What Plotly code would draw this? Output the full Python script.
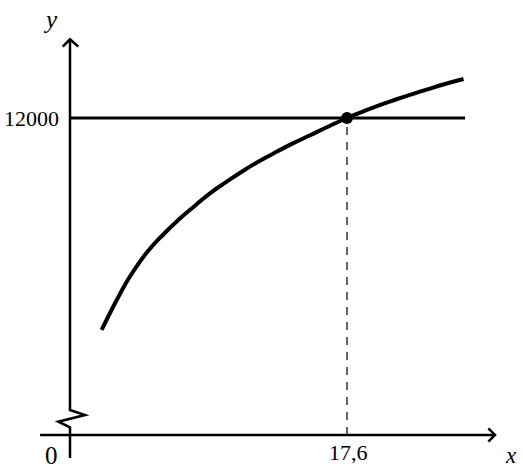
import plotly.graph_objects as go

# curve
xs = [2.01, 2.86, 3.70, 4.34, 4.97, 5.83, 6.88, 7.94, 8.89, 9.96, 11.01, 12.07,
      13.13, 14.19, 15.25, 16.31, 17.6, 18.53, 19.59, 20.65, 21.71, 22.76, 23.82, 25.0]
ys = [6650, 7323, 7929, 8315, 8651, 9022, 9426, 9786, 10099, 10392, 10670, 10922,
      11149, 11365, 11565, 11765, 12000, 12150, 12315, 12460, 12598, 12730, 12858, 12985]

x_mark = 17.6
y_mark = 12000
y_base = 4000          # where the (broken) y axis meets the x axis
x_label = '17,6'
y_label = '12000'

x_min, x_max = -4.447, 28.78
y_min, y_max = 3141, 14978

fig = go.Figure()

# curve
fig.add_trace(go.Scatter(x=xs, y=ys, mode='lines',
                         line=dict(color='black', width=4, shape='spline', smoothing=1.3),
                         hoverinfo='skip'))

# intersection point
fig.add_trace(go.Scatter(x=[x_mark], y=[y_mark], mode='markers',
                         marker=dict(color='black', size=12), hoverinfo='skip'))

ax = dict(color='black', width=2.5)
shapes = [
    # horizontal line y = 12000
    dict(type='line', x0=0, x1=25.1, y0=y_mark, y1=y_mark, line=dict(color='black', width=3)),
    # dashed drop line
    dict(type='line', x0=x_mark, x1=x_mark, y0=y_base, y1=y_mark,
         line=dict(color='black', width=1.2, dash='8px,7px')),
    # x axis + arrow head
    dict(type='line', x0=-1.9, x1=27.0, y0=y_base, y1=y_base, line=ax),
    dict(type='path', path='M 26.58 4168 L 27.0 4000 L 26.58 3830', line=ax),
    # y axis with zigzag break + arrow head
    dict(type='path',
         path='M 0 3418 L 0 4193 L -0.743 4335 L 0.953 4504 L 0 4630 L 0 13986',
         line=ax),
    dict(type='path', path='M -0.464 13800 L 0 13986 L 0.527 13800', line=ax),
]

serif = 'Liberation Serif'
annotations = [
    dict(x=50 / 523, y=1 - 19 / 469, text='<i>y</i>', font=dict(size=25)),
    dict(x=31 / 523, y=1 - 118 / 469, text=y_label, font=dict(size=22)),
    dict(x=51 / 523, y=1 - 455 / 469, text='0', font=dict(size=25)),
    dict(x=348 / 523, y=1 - 452 / 469, text=x_label, font=dict(size=22)),
    dict(x=511 / 523, y=1 - 455 / 469, text='<i>x</i>', font=dict(size=23)),
]
for a in annotations:
    a.update(xref='paper', yref='paper', showarrow=False,
             xanchor='center', yanchor='middle')
    a['font'].update(family=serif, color='black')

fig.update_layout(
    width=523, height=469, autosize=False,
    margin=dict(l=0, r=0, t=0, b=0),
    paper_bgcolor='white', plot_bgcolor='white',
    showlegend=False,
    xaxis=dict(range=[x_min, x_max], visible=False),
    yaxis=dict(range=[y_min, y_max], visible=False),
    shapes=shapes,
    annotations=annotations,
)

# drop the browser's default body margin so the figure fills the window
fig.write_html('out.html', config={'displayModeBar': False},
               post_script="document.body.style.margin='0';")
